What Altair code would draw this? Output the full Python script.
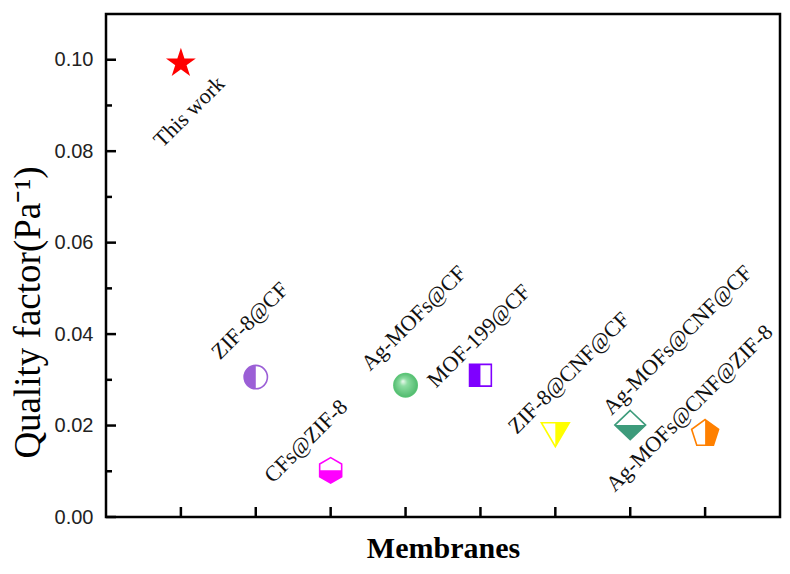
import math
import altair as alt
import pandas as pd

# ---------------- data ----------------
names = ["This work", "ZIF-8@CF", "CFs@ZIF-8", "Ag-MOFs@CF", "MOF-199@CF",
         "ZIF-8@CNF@CF", "Ag-MOFs@CNF@CF", "Ag-MOFs@CNF@ZIF-8"]
positions = [1, 2, 3, 4, 5, 6, 7, 8]
quality = [0.0992, 0.0306, 0.0102, 0.0288, 0.0310, 0.0180, 0.0201, 0.0185]
label_x = [1.11, 1.92, 2.67, 4.11, 4.98, 6.18, 7.63, 7.79]
label_y = [0.0886, 0.0429, 0.0166, 0.0435, 0.0396, 0.0315, 0.0387, 0.0238]
colors = ["#ff0000", "#9b5fd6", "#ff00ff", "#5dc878", "#7f00ff",
          "#ffff00", "#3d9b7b", "#ff8000"]
y_major = [0.00, 0.02, 0.04, 0.06, 0.08, 0.10]
y_minor = [0.01, 0.03, 0.05, 0.07, 0.09]
x_ticks = [1, 2, 3, 4, 5, 6, 7, 8]

# ---------------- marker paths ----------------
def poly(pts):
    return "M" + " L".join(f"{x:.3f},{y:.3f}" for x, y in pts) + " Z"

def star(R=1.19, ratio=0.382):
    pts = []
    for k in range(10):
        a = math.radians(-90 + 36 * k)
        r = R if k % 2 == 0 else R * ratio
        pts.append((r * math.cos(a), r * math.sin(a)))
    return poly(pts)

rc = 1.06
circle_full = f"M0,{-rc} A{rc},{rc} 0 1,1 0,{rc} A{rc},{rc} 0 1,1 0,{-rc} Z"
circle_left = f"M0,{-rc} A{rc},{rc} 0 0,0 0,{rc} Z"

rh = 1.155
hx = rh * math.cos(math.radians(30))
hex_full = poly([(0, -rh), (hx, -rh / 2), (hx, rh / 2), (0, rh), (-hx, rh / 2), (-hx, -rh / 2)])
hex_bottom = poly([(-hx, 0), (hx, 0), (hx, rh / 2), (0, rh), (-hx, rh / 2)])

sq = 0.99
sq_full = poly([(-sq, -sq), (sq, -sq), (sq, sq), (-sq, sq)])
sq_left = poly([(-sq, -sq), (0, -sq), (0, sq), (-sq, sq)])

tw, th = 1.27, 1.09
tri_full = poly([(-tw, -th), (tw, -th), (0, th)])
tri_right = poly([(0, -th), (tw, -th), (0, th)])

dw, dh = 1.4, 1.33
dia_full = poly([(0, -dh), (dw, 0), (0, dh), (-dw, 0)])
dia_bottom = poly([(-dw, 0), (dw, 0), (0, dh)])

rp, sh = 1.29, 0.12
pv = []
for k in range(5):
    a = math.radians(-90 + 72 * k)
    pv.append((rp * math.cos(a), rp * math.sin(a) + sh))
pent_full = poly(pv)
pent_right = poly([pv[0], pv[1], pv[2], (0, pv[2][1])])

star_p = star()
outline_paths = [star_p, circle_full, hex_full, circle_full, sq_full, tri_full, dia_full, pent_full]
fill_paths = [star_p, circle_left, hex_bottom, circle_full, sq_left, tri_right, dia_bottom, pent_right]

df = pd.DataFrame({"name": names, "pos": positions, "q": quality,
                   "lx": label_x, "ly": label_y})

def xs():
    return alt.Scale(domain=[0, 9], nice=False, zero=False)

def ys():
    return alt.Scale(domain=[0, 0.11], nice=False, zero=False)

col_scale = alt.Scale(domain=names, range=colors)

serif = "Liberation Serif"
sans = "Liberation Sans"

# layer 1: half fills + axes (labels and titles)
fill_layer = alt.Chart(df).mark_point(filled=True, size=484, opacity=1, strokeWidth=0).encode(
    x=alt.X("pos:Q", scale=xs(),
            axis=alt.Axis(title="Membranes", labels=False, ticks=False, domain=False, grid=False,
                          titleFont=serif, titleFontSize=30, titleFontWeight="bold",
                          titleColor="black", titlePadding=16)),
    y=alt.Y("q:Q", scale=ys(),
            axis=alt.Axis(title="Quality factor(Pa⁻¹)", values=y_major, format=".2f",
                          ticks=False, tickSize=0, domain=False, grid=False,
                          labelFont=sans, labelFontSize=20, labelColor="#222222",
                          labelPadding=13,
                          titleFont=serif, titleFontSize=37, titleFontWeight="normal",
                          titleColor="black", titlePadding=7, titleY=298)),
    fill=alt.Fill("name:N", scale=col_scale, legend=None),
    shape=alt.Shape("name:N", scale=alt.Scale(domain=names, range=fill_paths), legend=None),
)

# layer 2: outlines
outline_layer = alt.Chart(df).mark_point(filled=False, size=484, strokeWidth=1.6, opacity=1).encode(
    x=alt.X("pos:Q", scale=xs(), axis=None),
    y=alt.Y("q:Q", scale=ys(), axis=None),
    stroke=alt.Stroke("name:N", scale=col_scale, legend=None),
    shape=alt.Shape("name:N", scale=alt.Scale(domain=names, range=outline_paths), legend=None),
)

# layer 3: glossy sphere
sphere = alt.Chart(df).transform_filter(alt.datum.name == "Ag-MOFs@CF").mark_point(
    filled=True, size=484, shape=circle_full, opacity=1, strokeWidth=0,
    fill=alt.Gradient(gradient="radial", x1=0.38, y1=0.32, r1=0, x2=0.5, y2=0.5, r2=0.55,
                      stops=[alt.GradientStop(offset=0, color="#f2fbf4"),
                             alt.GradientStop(offset=0.3, color="#8ddda2"),
                             alt.GradientStop(offset=1, color="#4cb86a")]),
).encode(
    x=alt.X("pos:Q", scale=xs(), axis=None),
    y=alt.Y("q:Q", scale=ys(), axis=None),
)

# layer 4: rotated labels
labels = alt.Chart(df).mark_text(angle=315, font=serif, fontSize=22, color="#111111",
                                 align="center", baseline="middle").encode(
    x=alt.X("lx:Q", scale=xs(), axis=None),
    y=alt.Y("ly:Q", scale=ys(), axis=None),
    text="name:N",
)

# inward tick marks (positions from the tick value lists through the scales)
ymaj = alt.Chart(pd.DataFrame({"v": y_major})).mark_rule(color="black", strokeWidth=2.5).encode(
    y=alt.Y("v:Q", scale=ys(), axis=None), x=alt.value(0), x2=alt.value(10))
ymin = alt.Chart(pd.DataFrame({"v": y_minor})).mark_rule(color="black", strokeWidth=2.5).encode(
    y=alt.Y("v:Q", scale=ys(), axis=None), x=alt.value(0), x2=alt.value(6))
xtk = alt.Chart(pd.DataFrame({"v": x_ticks})).mark_rule(color="black", strokeWidth=2.5).encode(
    x=alt.X("v:Q", scale=xs(), axis=None), y=alt.value(503), y2=alt.value(493))

chart = alt.layer(fill_layer, outline_layer, sphere, labels, ymaj, ymin, xtk).resolve_scale(
    x="independent", y="independent", shape="independent"
).resolve_axis(
    x="independent", y="independent"
).properties(
    width=674, height=503,
    background="white",
    autosize=alt.AutoSizeParams(type="none"),
    padding={"left": 98, "top": 6, "right": 2, "bottom": 48},
).configure_view(stroke="black", strokeWidth=2.5)

chart.save("out.html", embed_options={"renderer": "svg", "actions": False})
